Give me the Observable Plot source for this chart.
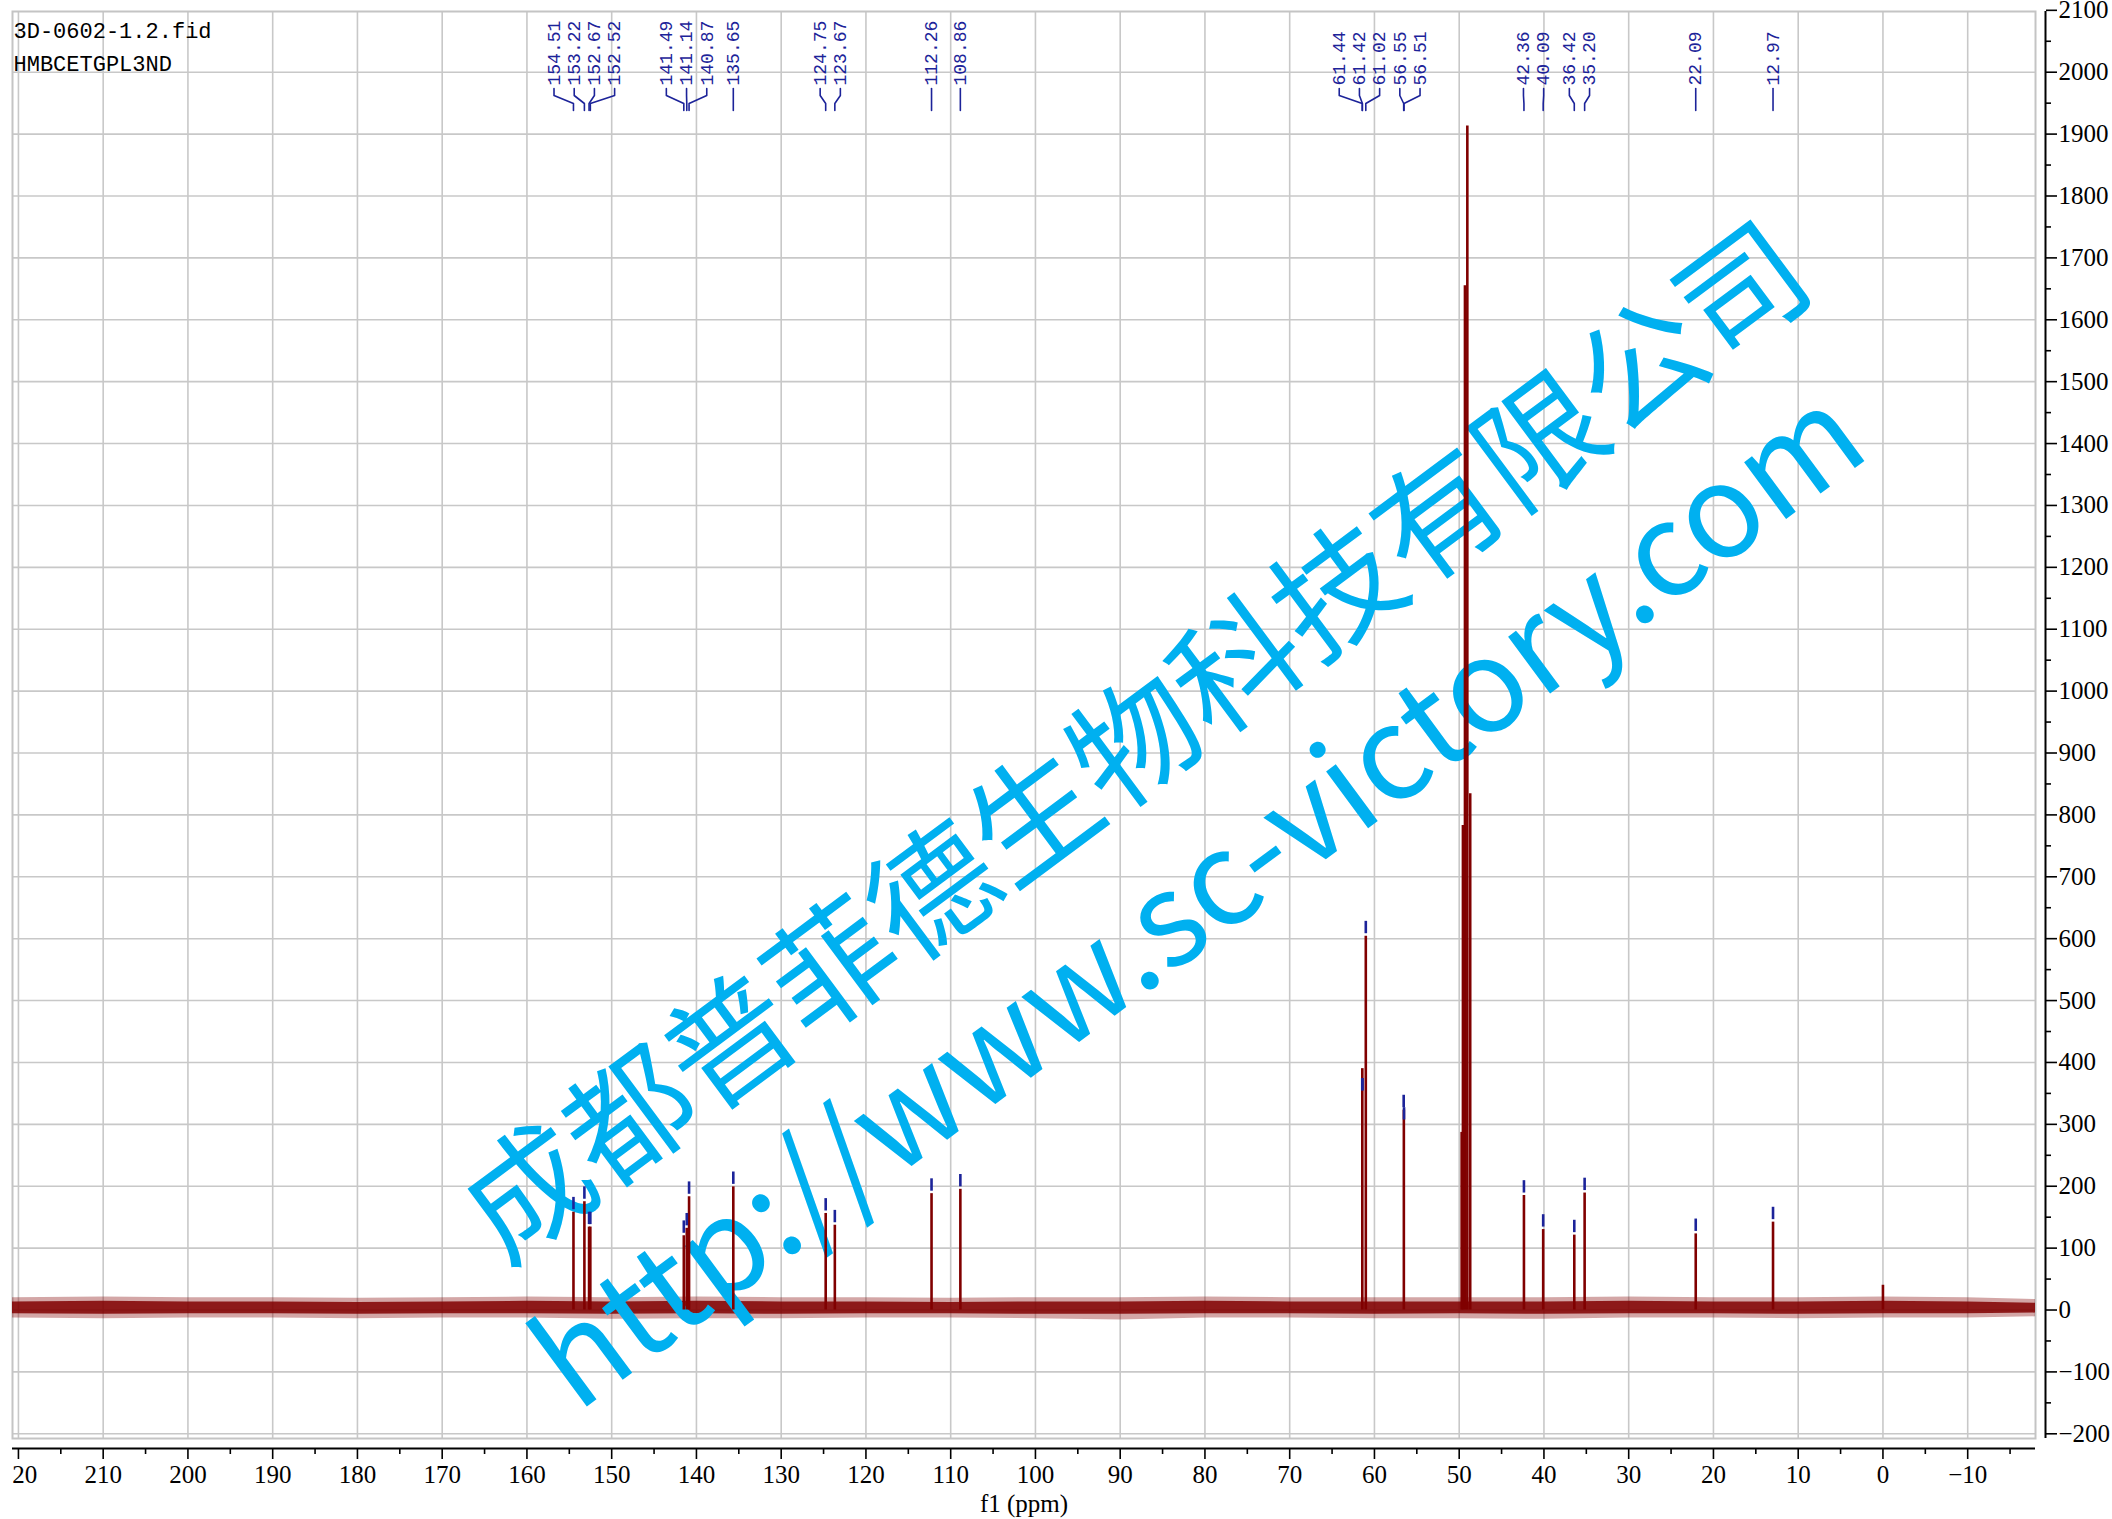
<!DOCTYPE html>
<html>
<head>
<meta charset="utf-8">
<script src="https://cdn.jsdelivr.net/npm/d3@7"></script>
<script src="https://cdn.jsdelivr.net/npm/@observablehq/plot@0.6"></script>
<style>
  html, body { margin: 0; padding: 0; background: #fff; overflow: hidden; }
  #chart svg { display: block; }
</style>
</head>
<body>
<div id="chart"></div>
<script>
// ---------- data ----------
const titleLines = ["3D-0602-1.2.fid", "HMBCETGPL3ND"];
const xLabel = "f1 (ppm)";
const watermarkCN = "成都普菲德生物科技有限公司";
const watermarkURL = "http://www.sc-victory.com";

const xTicks = [220, 210, 200, 190, 180, 170, 160, 150, 140, 130, 120, 110, 100, 90, 80, 70, 60, 50, 40, 30, 20, 10, 0, -10];
const xMinorTicks = [215, 205, 195, 185, 175, 165, 155, 145, 135, 125, 115, 105, 95, 85, 75, 65, 55, 45, 35, 25, 15, 5, -5, -15];
const yTicks = [-200, -100, 0, 100, 200, 300, 400, 500, 600, 700, 800, 900, 1000, 1100, 1200, 1300, 1400, 1500, 1600, 1700, 1800, 1900, 2000, 2100];
const yMinorTicks = [-150, -50, 50, 150, 250, 350, 450, 550, 650, 750, 850, 950, 1050, 1150, 1250, 1350, 1450, 1550, 1650, 1750, 1850, 1950, 2050];
const yGridTicks = [-200, -100, 0, 100, 200, 300, 400, 500, 600, 700, 800, 900, 1000, 1100, 1200, 1300, 1400, 1500, 1600, 1700, 1800, 1900, 2000];

// baseline noise envelope
const noisePpm      = [220.7, 210, 200, 190, 180, 170, 160, 150, 140, 130, 120, 110, 100, 90, 80, 70, 60, 50, 40, 30, 20, 10, 0, -10, -18];
const noiseOuterLow = [-13, -14, -13, -13, -14, -13, -13, -15, -14, -14, -13, -13, -14, -16, -13, -13, -14, -14, -15, -13, -13, -14, -13, -13, -11];
const noiseOuterHigh= [20, 21, 20, 20, 19, 20, 21, 20, 21, 20, 20, 19, 20, 20, 21, 20, 20, 20, 20, 21, 20, 20, 21, 20, 17];
const noiseInnerLow = [-6, -7, -6, -6, -7, -6, -6, -7, -6, -7, -6, -6, -7, -7, -6, -6, -7, -6, -7, -6, -6, -7, -6, -6, -5];
const noiseInnerHigh= [13, 14, 13, 13, 12, 13, 14, 13, 14, 13, 13, 12, 13, 13, 14, 13, 13, 13, 13, 14, 13, 13, 14, 13, 11];

// spectrum peaks (ppm, intensity)
const peakPpm    = [154.51, 153.22, 152.67, 152.52, 141.49, 141.14, 140.87, 135.65, 124.75, 123.67, 112.26, 108.86, 61.43, 61.02, 56.53, 49.71, 49.56, 49.32, 49.04, 48.70, 42.36, 40.09, 36.42, 35.20, 22.09, 12.97, 0.00];
const peakHeight = [158, 175, 134, 134, 120, 132, 183, 199, 156, 137, 188, 195, 390, 604, 323, 287, 783, 1655, 1913, 834, 185, 130, 121, 189, 123, 142, 40];

// peak-pick labels
const labelPpm    = [154.51, 153.22, 152.67, 152.52, 141.49, 141.14, 140.87, 135.65, 124.75, 123.67, 112.26, 108.86, 61.44, 61.42, 61.02, 56.55, 56.51, 42.36, 40.09, 36.42, 35.20, 22.09, 12.97];
const labelText   = ["154.51", "153.22", "152.67", "152.52", "141.49", "141.14", "140.87", "135.65", "124.75", "123.67", "112.26", "108.86", "61.44", "61.42", "61.02", "56.55", "56.51", "42.36", "40.09", "36.42", "35.20", "22.09", "12.97"];
const pickHeight  = [158, 175, 134, 134, 120, 132, 183, 199, 156, 137, 188, 195, 350, 350, 604, 323, 303, 185, 130, 121, 189, 123, 142];

// ---------- layout ----------
const W = 2112, H = 1519;
const mL = 12, mR = 77, mT = 11, mB = 81;
const xDomain = [220.7, -18.0];
const yDomain = [-207.6, 2098.1];
const RED = "#800000", BLUE = "#1c2399", GRID = "#c8c8c8", CYAN = "#00b0f0";

const xs = d3.scaleLinear(xDomain, [mL, W - mR]);
const ys = d3.scaleLinear(yDomain, [H - mB, mT]);

const noiseData = noisePpm.map((p, i) => ({ppm: p, ol: noiseOuterLow[i], oh: noiseOuterHigh[i], il: noiseInnerLow[i], ih: noiseInnerHigh[i]}));
const peaks = peakPpm.map((p, i) => ({ppm: p, h: peakHeight[i]}));
const labels = labelPpm.map((p, i) => ({ppm: p, text: labelText[i], h: pickHeight[i]}));

// spread label positions so they do not overlap (min gap in px)
const GAP = 20.2;
(function spread() {
  let clusters = labels.map((d) => ({items: [d], sum: xs(d.ppm)}));
  let changed = true;
  while (changed) {
    changed = false;
    for (let i = 0; i < clusters.length - 1; i++) {
      const a = clusters[i], b = clusters[i + 1];
      const ac = a.sum / a.items.length, bc = b.sum / b.items.length;
      const aEnd = ac + (a.items.length - 1) * GAP / 2;
      const bStart = bc - (b.items.length - 1) * GAP / 2;
      if (bStart - aEnd < GAP) {
        clusters.splice(i, 2, {items: a.items.concat(b.items), sum: a.sum + b.sum});
        changed = true;
        break;
      }
    }
  }
  for (const c of clusters) {
    const center = c.sum / c.items.length;
    c.items.forEach((d, k) => { d.lx = center - (c.items.length - 1) * GAP / 2 + k * GAP; });
  }
})();

const connectors = [];
labels.forEach((d, i) => {
  const lxp = xs.invert(d.lx), pxp = d.ppm;
  connectors.push({id: i, x: lxp, y: ys.invert(88)});
  connectors.push({id: i, x: lxp, y: ys.invert(95)});
  connectors.push({id: i, x: pxp, y: ys.invert(103)});
  connectors.push({id: i, x: pxp, y: ys.invert(110)});
});

const serif = "'Liberation Serif', 'Times New Roman', serif";
const mono = "'Liberation Mono', 'DejaVu Sans Mono', monospace";
const intFmt = d3.format("d");

const chart = Plot.plot({
  width: W, height: H,
  marginLeft: mL, marginRight: mR, marginTop: mT, marginBottom: mB,
  style: {background: "#fff", fontFamily: serif, fontSize: "25px", color: "#000"},
  x: {domain: xDomain, label: null},
  y: {domain: yDomain, label: null},
  marks: [
    Plot.gridX(xTicks, {stroke: GRID, strokeOpacity: 1, strokeWidth: 1.6}),
    Plot.gridY(yGridTicks, {stroke: GRID, strokeOpacity: 1, strokeWidth: 1.6}),
    Plot.frame({stroke: "#c4c4c4", strokeWidth: 2}),
    // baseline noise band
    Plot.areaY(noiseData, {x: "ppm", y1: "ol", y2: "oh", fill: RED, fillOpacity: 0.35}),
    Plot.areaY(noiseData, {x: "ppm", y1: "il", y2: "ih", fill: RED, fillOpacity: 0.85}),
    // watermark
    Plot.text([watermarkCN], {text: (d) => d, frameAnchor: "top-left", dx: 1138 - mL, dy: 745 - mT, rotate: -36.6,
      fontSize: 126, fontFamily: "'Noto Sans CJK SC', sans-serif", fill: CYAN, textAnchor: "middle", lineAnchor: "middle"}),
    Plot.text([watermarkURL], {text: (d) => d, frameAnchor: "top-left", dx: 1200 - mL, dy: 900 - mT, rotate: -36.5,
      fontSize: 130, fontFamily: "'Noto Sans CJK SC', sans-serif", fill: CYAN, textAnchor: "middle", lineAnchor: "middle"}),
    // peaks
    Plot.ruleX(peaks, {x: "ppm", y1: 0, y2: "h", stroke: RED, strokeWidth: 2.6}),
    // peak-pick markers
    Plot.ruleX(labels, {x: "ppm", y1: (d) => d.h + 4, y2: (d) => d.h + 24, stroke: BLUE, strokeWidth: 2.6}),
    // label connectors
    Plot.line(connectors, {x: "x", y: "y", z: "id", stroke: BLUE, strokeWidth: 1.6, curve: "linear"}),
    // labels
    Plot.text(labels, {x: (d) => xs.invert(d.lx), y: ys.invert(85), text: "text", rotate: -90, textAnchor: "start",
      lineAnchor: "middle", fontFamily: mono, fontSize: 18, fill: BLUE}),
    // title
    Plot.text([titleLines.join("\n")], {text: (d) => d, frameAnchor: "top-left", dx: 1, dy: 3, lineAnchor: "top",
      textAnchor: "start", lineHeight: 1.5, fontFamily: mono, fontSize: 22, fill: "#000"}),
    // x axis
    Plot.ruleY([yDomain[0]], {dy: 10, stroke: "#000", strokeWidth: 2}),
    Plot.axisX(xTicks, {anchor: "bottom", tickSize: 11, tickPadding: 6, dy: 10, fontSize: 25, fontFamily: serif,
      tickFormat: intFmt, label: null, strokeWidth: 1.6}),
    Plot.axisX(xMinorTicks, {anchor: "bottom", tickSize: 6, dy: 10, tickFormat: () => "", label: null, strokeWidth: 1.6}),
    Plot.text([xLabel], {text: (d) => d, frameAnchor: "bottom", dy: 65, lineAnchor: "middle", fontSize: 25, fontFamily: serif}),
    // y axis
    Plot.ruleX([xDomain[1]], {dx: 10, stroke: "#000", strokeWidth: 2}),
    Plot.axisY(yTicks, {anchor: "right", tickSize: 11, tickPadding: 2, dx: 10, fontSize: 25, fontFamily: serif,
      tickFormat: intFmt, label: null, strokeWidth: 1.6}),
    Plot.axisY(yMinorTicks, {anchor: "right", tickSize: 5, dx: 10, tickFormat: () => "", label: null, strokeWidth: 1.6})
  ]
});

document.getElementById("chart").appendChild(chart);

// clip x tick labels at the left frame edge (as in the original output)
const svg = d3.select(chart);
const defs = svg.insert("defs", ":first-child");
defs.append("clipPath").attr("id", "xlabclip").append("rect")
  .attr("x", mL).attr("y", 0).attr("width", W).attr("height", H);
svg.selectAll('g[aria-label="x-axis tick label"]').attr("clip-path", "url(#xlabclip)");
</script>
</body>
</html>
